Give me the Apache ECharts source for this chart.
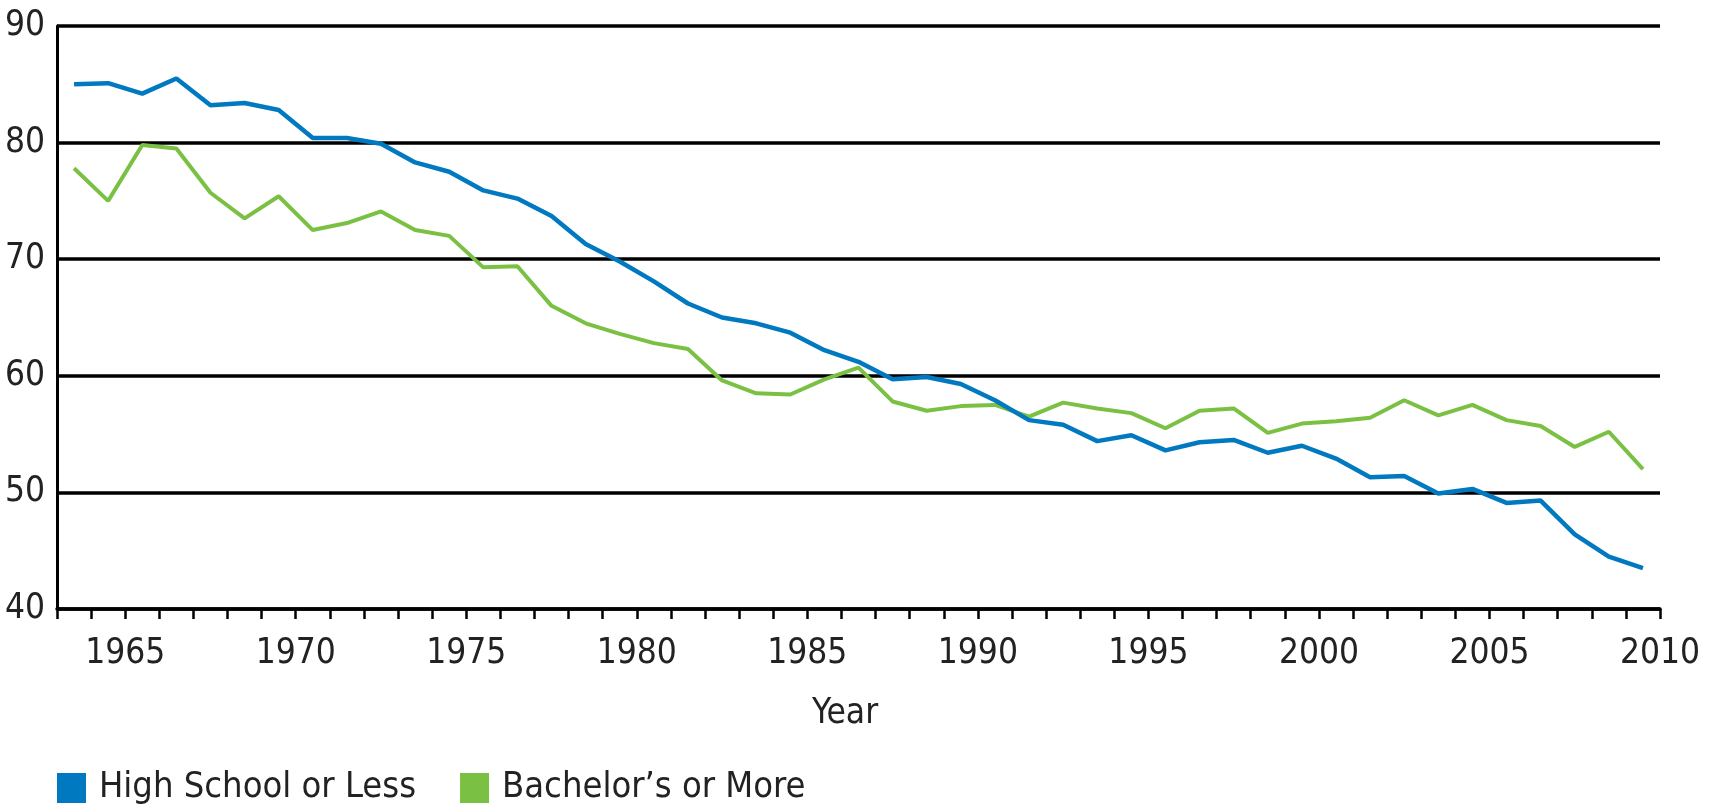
<!DOCTYPE html>
<html>
<head>
<meta charset="utf-8">
<title>Chart</title>
<script src="https://cdn.jsdelivr.net/npm/echarts@6/dist/echarts.min.js"></script>
<style>
    html, body { margin: 0; padding: 0; background: #fff; }
    #chart-wrap { width: 1710px; height: 808px; }
</style>
</head>
<body>
<div id="chart-wrap"></div>
<script>
// 年份（每个点画在两条刻度中间）
let years = [];
for (let y = 1963; y <= 2009; y++) {
    years.push(String(y));
}
let highSchool = [85.0, 85.1, 84.2, 85.5, 83.2, 83.4, 82.8, 80.4, 80.4, 79.9,
    78.3, 77.5, 75.9, 75.2, 73.7, 71.3, 69.8, 68.1, 66.2, 65.0,
    64.5, 63.7, 62.2, 61.2, 59.7, 59.9, 59.3, 57.9, 56.2, 55.8,
    54.4, 54.9, 53.6, 54.3, 54.5, 53.4, 54.0, 52.9, 51.3, 51.4,
    49.9, 50.3, 49.1, 49.3, 46.4, 44.5, 43.5];
let bachelor = [77.8, 75.0, 79.8, 79.5, 75.7, 73.5, 75.4, 72.5, 73.1, 74.1,
    72.5, 72.0, 69.3, 69.4, 66.0, 64.5, 63.6, 62.8, 62.3, 59.6,
    58.5, 58.4, 59.7, 60.7, 57.8, 57.0, 57.4, 57.5, 56.5, 57.7,
    57.2, 56.8, 55.5, 57.0, 57.2, 55.1, 55.9, 56.1, 56.4, 57.9,
    56.6, 57.5, 56.2, 55.7, 53.9, 55.2, 52.0];
let seriesNames = ['High School or Less', 'Bachelor\u2019s or More'];
let yTicks = [40, 90, 10];

let fontName = "'DejaVu Sans Condensed', 'DejaVu Sans'";
let textColor = '#222';

let chart = echarts.init(document.getElementById('chart-wrap'));
chart.setOption({
    animation: false,
    backgroundColor: '#fff',
    title: {
        text: 'Year',
        left: 840,
        top: 691,
        textAlign: 'center',
        textStyle: {
            fontFamily: fontName,
            fontSize: 35,
            fontWeight: 'normal',
            color: textColor
        }
    },
    legend: {
        left: 52,
        top: 765,
        icon: 'rect',
        itemWidth: 29,
        itemHeight: 30,
        itemGap: 44,
        textStyle: {
            fontFamily: fontName,
            fontSize: 36,
            color: textColor,
            padding: [0, 0, 0, 8]
        },
        data: seriesNames
    },
    grid: {
        left: 57,
        right: 50,
        top: 26,
        bottom: 199,
        containLabel: false
    },
    xAxis: [
        {
            // 数据用的类目轴，不显示
            type: 'category',
            data: years,
            boundaryGap: true,
            position: 'top',
            show: false
        },
        {
            // 显示刻度和年份的数值轴
            type: 'value',
            position: 'bottom',
            min: 1963,
            max: 2010,
            interval: 1,
            axisLine: {
                show: true,
                lineStyle: { color: '#000', width: 3.5 }
            },
            axisTick: {
                show: true,
                length: 10,
                lineStyle: { color: '#000', width: 2.5 }
            },
            axisLabel: {
                margin: 27,
                fontFamily: fontName,
                fontSize: 35,
                color: textColor,
                showMinLabel: true,
                showMaxLabel: true,
                formatter: function (value) {
                    return value % 5 === 0 ? String(value) : '';
                }
            },
            splitLine: { show: false }
        }
    ],
    yAxis: {
        type: 'value',
        min: yTicks[0],
        max: yTicks[1],
        interval: yTicks[2],
        axisLine: {
            show: true,
            lineStyle: { color: '#000', width: 3 }
        },
        axisTick: { show: false },
        axisLabel: {
            margin: 12,
            fontFamily: fontName,
            fontSize: 35,
            color: textColor,
            padding: [0, 0, 8, 0]
        },
        splitLine: {
            lineStyle: { color: '#000', width: 3.5 }
        }
    },
    series: [
        {
            name: seriesNames[0],
            type: 'line',
            xAxisIndex: 0,
            data: highSchool,
            symbol: 'none',
            z: 3,
            lineStyle: { color: '#0079C1', width: 4.5 },
            itemStyle: { color: '#0079C1' }
        },
        {
            name: seriesNames[1],
            type: 'line',
            xAxisIndex: 0,
            data: bachelor,
            symbol: 'none',
            z: 2,
            lineStyle: { color: '#7AC143', width: 4 },
            itemStyle: { color: '#7AC143' }
        }
    ]
});
</script>
</body>
</html>
